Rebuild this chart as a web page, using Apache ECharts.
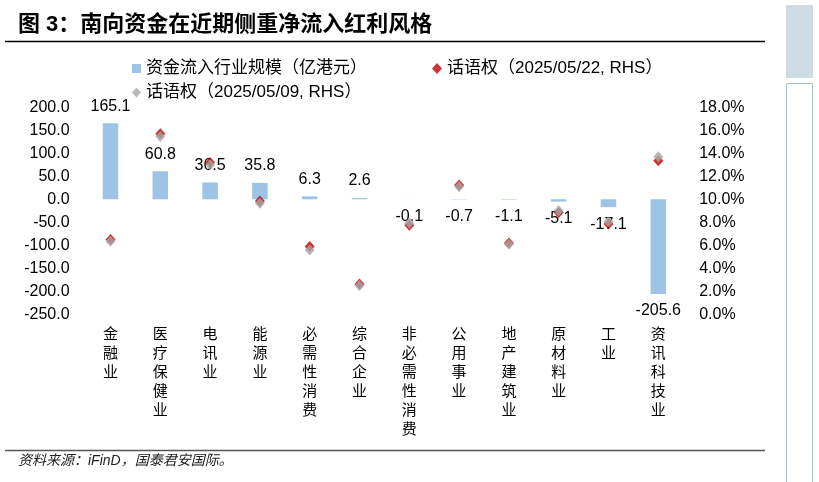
<!DOCTYPE html>
<html><head><meta charset="utf-8">
<script src="https://cdn.jsdelivr.net/npm/echarts@6/dist/echarts.min.js"></script>
<style>html,body{margin:0;padding:0;background:#fff}#c{width:819px;height:482px}</style>
</head><body><div id="c"></div>
<script>
const categories = ['金融业','医疗保健业','电讯业','能源业','必需性消费','综合企业','非必需性消费','公用事业','地产建筑业','原材料业','工业','资讯科技业'];
const inflow = [165.1, 60.8, 36.5, 35.8, 6.3, 2.6, -0.1, -0.7, -1.1, -5.1, -17.1, -205.6];
const share0522 = [6.5, 15.7, 13.2, 9.85, 5.9, 2.65, 7.75, 11.25, 6.2, 8.85, 7.85, 13.35];
const share0509 = [6.35, 15.45, 13.0, 9.65, 5.6, 2.5, 7.95, 11.1, 6.1, 9.0, 8.05, 13.7];
const leftAxis = {min: -250, max: 200, interval: 50};
const rightAxis = {min: 0, max: 18, interval: 2};
const seriesNames = ['资金流入行业规模（亿港元）', '话语权（2025/05/22, RHS）', '话语权（2025/05/09, RHS）'];
const titleText = '图 3：南向资金在近期侧重净流入红利风格';
const sourceText = '资料来源：iFinD，国泰君安国际。';

const LAT = '"Liberation Sans", Arial, "Noto Sans CJK SC", sans-serif';
const CJK = '"Liberation Sans", "Noto Sans CJK SC", sans-serif';

const chart = echarts.init(document.getElementById('c'), null, {renderer: 'canvas'});
const legendText = {fontSize: 17, color: '#000', fontFamily: CJK};
chart.setOption({
  animation: false,
  backgroundColor: '#fff',
  grid: {left: 85.6, right: 135.8, top: 107.2, bottom: 167.6, containLabel: false},
  legend: [
    {data: [seriesNames[0]], left: 132, top: 60, padding: 0, itemWidth: 9, itemHeight: 9, icon: 'rect', textStyle: legendText, selectedMode: false},
    {data: [seriesNames[1]], left: 432, top: 60, padding: 0, itemWidth: 10, itemHeight: 11, icon: 'diamond', textStyle: legendText, selectedMode: false},
    {data: [seriesNames[2]], left: 132, top: 84, padding: 0, itemWidth: 9, itemHeight: 10, icon: 'diamond', textStyle: legendText, selectedMode: false}
  ],
  xAxis: {
    type: 'category', data: categories,
    axisLine: {show: false}, axisTick: {show: false}, splitLine: {show: false},
    axisLabel: {
      interval: 0, margin: 9, fontSize: 15, lineHeight: 19, color: '#000',
      fontFamily: '"Noto Sans CJK SC", sans-serif', verticalAlign: 'top',
      formatter: v => v.split('').join('\n')
    }
  },
  yAxis: [
    {type: 'value', min: leftAxis.min, max: leftAxis.max, interval: leftAxis.interval,
     axisLine: {show: false}, axisTick: {show: false}, splitLine: {show: false},
     axisLabel: {margin: 16, fontSize: 16, color: '#000', fontFamily: LAT, formatter: v => v.toFixed(1)}},
    {type: 'value', min: rightAxis.min, max: rightAxis.max, interval: rightAxis.interval,
     axisLine: {show: false}, axisTick: {show: false}, splitLine: {show: false},
     axisLabel: {margin: 16, fontSize: 16, color: '#000', fontFamily: LAT, formatter: v => v.toFixed(1) + '%'}}
  ],
  series: [
    {name: seriesNames[0], type: 'bar', yAxisIndex: 0, barWidth: 15.5,
     itemStyle: {color: '#9dc3e6'},
     data: inflow.map(v => ({value: v, label: {position: v >= 0 ? 'top' : 'bottom'}})),
     label: {show: true, distance: 9, fontSize: 16, color: '#000', fontFamily: LAT, formatter: p => p.value.toFixed(1)},
     z: 2},
    {name: seriesNames[1], type: 'scatter', yAxisIndex: 1, symbol: 'diamond', symbolSize: [10, 11],
     itemStyle: {color: '#c00000'}, data: share0522, z: 3},
    {name: seriesNames[2], type: 'scatter', yAxisIndex: 1, symbol: 'diamond', symbolSize: [10, 11],
     itemStyle: {color: '#a6a6a6'}, data: share0509, z: 4}
  ],
  graphic: [
    {type: 'text', left: 18, top: 14, style: {text: titleText, fontSize: 22, fontWeight: 'bold', fill: '#000', fontFamily: '"Liberation Sans", "Noto Sans CJK SC", sans-serif'}},
    {type: 'line', shape: {x1: 5, y1: 41.5, x2: 765, y2: 41.5}, style: {stroke: '#000', lineWidth: 1.5}},
    {type: 'line', shape: {x1: 5, y1: 450.5, x2: 765, y2: 450.5}, style: {stroke: '#555', lineWidth: 1.5}},
    {type: 'text', left: 18, top: 454, style: {text: sourceText, fontSize: 14, fontStyle: 'italic', fill: '#222', fontFamily: '"Liberation Sans", "Noto Sans CJK SC", sans-serif'}},
    {type: 'rect', shape: {x: 786, y: 5, width: 27, height: 73}, style: {fill: '#cfdbe5'}},
    {type: 'rect', shape: {x: 786.5, y: 83.5, width: 26, height: 410}, style: {fill: 'none', stroke: '#a7bfd2', lineWidth: 1}}
  ]
});
</script></body></html>
